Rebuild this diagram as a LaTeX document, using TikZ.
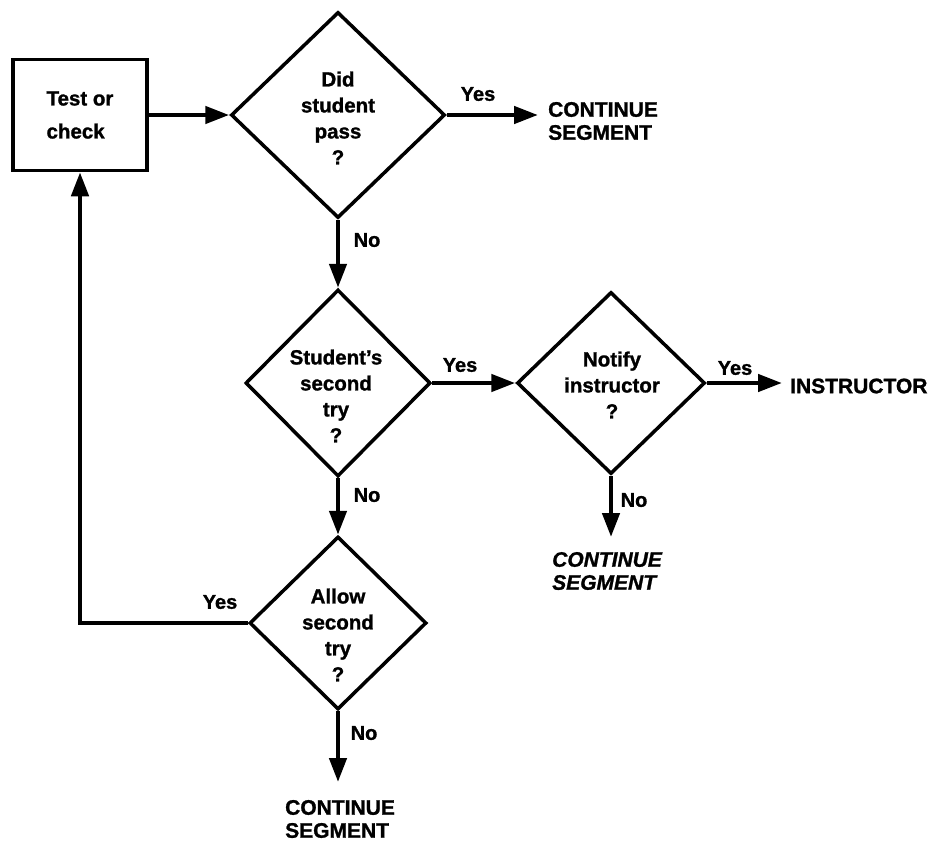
\documentclass[tikz,border=0pt]{standalone}
\usepackage{fontspec}
\setmainfont{Liberation Sans}[BoldFeatures={FakeBold=1.2},BoldItalicFeatures={FakeBold=1.2}]
\usetikzlibrary{shapes.geometric,arrows.meta}
\begin{document}
\begin{tikzpicture}[x=1pt,y=-1pt,
  dia/.style={draw,diamond,line width=3.5pt,inner sep=0pt,line join=miter},
  dtext/.style={align=center,inner sep=0pt,font=\fontsize{20.5}{26}\selectfont\bfseries},
  box/.style={draw,rectangle,line width=3.5pt,minimum width=134pt,minimum height=111pt,align=left,font=\fontsize{20.5}{33}\selectfont\bfseries},
  conn/.style={line width=4.5pt,-{Triangle[length=24pt,width=17pt]}},
  yn/.style={inner sep=0pt,font=\fontsize{20}{22}\selectfont\bfseries},
  term/.style={align=left,inner sep=0pt,font=\fontsize{21}{23}\selectfont\bfseries}
]
\useasboundingbox (0,0) rectangle (937,846);
\fill[white] (0,0) rectangle (937,846);

% process box
\node[box] (box) at (80,115) {Test or\\check};

% decisions
\node[dia,minimum width=214pt,minimum height=206pt] (d1) at (338,115) {};
\node[dtext] (t1) at (338,118) {Did\\student\\pass\\?};

\node[dia,minimum width=185pt,minimum height=187pt] (d2) at (338,383) {};
\node[dtext] (t2) at (336,396) {Student’s\\second\\try\\?};

\node[dia,minimum width=188pt,minimum height=182pt] (d3) at (611,383) {};
\node[dtext] (t3) at (612,385) {Notify\\instructor\\?};

\node[dia,minimum width=177pt,minimum height=173pt] (d4) at (338,623) {};
\node[dtext] (t4) at (338,635) {Allow\\second\\try\\?};

% terminals
\node[term,anchor=west] (c1) at (548,121) {CONTINUE\\SEGMENT};
\node[term,anchor=west] (ins) at (790,386) {INSTRUCTOR};
\node[term,anchor=west,font=\fontsize{21}{23}\selectfont\bfseries\itshape] (c2) at (552,571) {CONTINUE\\SEGMENT};
\node[term,anchor=west] (c3) at (285,819) {CONTINUE\\SEGMENT};

% free ends
\coordinate (e1) at (538,115);
\coordinate (e2) at (782,383);
\coordinate (e3) at (611,537);
\coordinate (e4) at (338,782);

% connectors
\draw[conn] (box.east) -- (d1.west);
\draw[conn] (d1.east) -- (e1);
\node[yn] (y1) at (478,94) {Yes};

\draw[conn] (d1.south) -- (d2.north);
\node[yn] (n1) at (367,240) {No};

\draw[conn] (d2.east) -- (d3.west);
\node[yn] (y2) at (460,365) {Yes};

\draw[conn] (d3.east) -- (e2);
\node[yn] (y3) at (735,368) {Yes};

\draw[conn] (d3.south) -- (e3);
\node[yn] (n3) at (634,500) {No};

\draw[conn] (d2.south) -- (d4.north);
\node[yn] (n2) at (367,495) {No};

\draw[conn] (d4.west) -| (box.south);
\node[yn] (y4) at (220,602) {Yes};

\draw[conn] (d4.south) -- (e4);
\node[yn] (n4) at (364,733) {No};
\end{tikzpicture}
\end{document}
